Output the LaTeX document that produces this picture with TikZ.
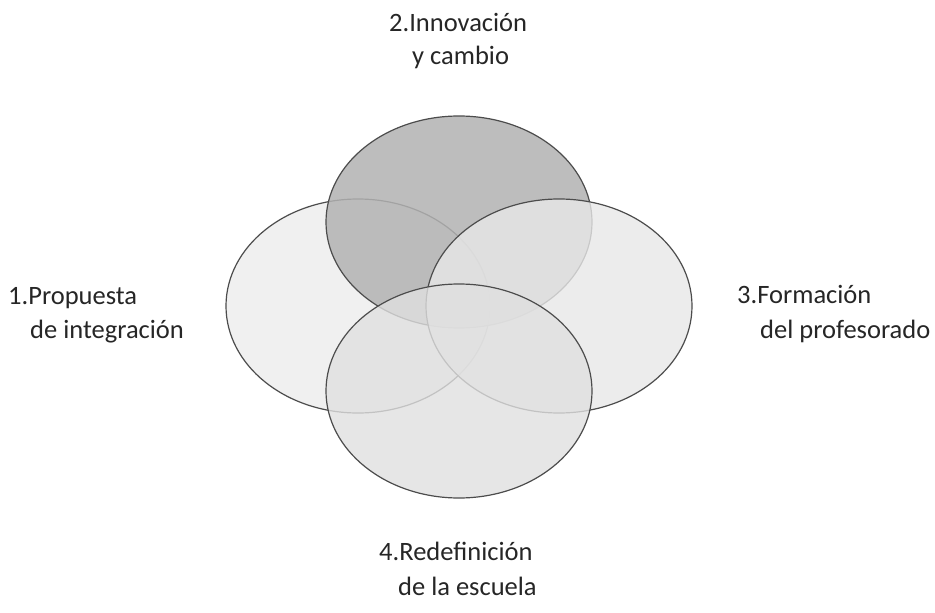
\documentclass[tikz,border=0pt]{standalone}
\usepackage{fontspec}
\setmainfont{Carlito}
\begin{document}
\begin{tikzpicture}[x=1pt,y=-1pt,
  petal/.style={draw=black!70, line width=1.2pt},
  lbl/.style={anchor=base west, inner sep=0pt, font=\fontsize{26.5}{32}\selectfont, text=black!85}]
\useasboundingbox (0,0) rectangle (935,613);
\fill[white] (0,0) rectangle (935,613);
% four overlapping ellipses
\draw[petal, fill=black!6] (358,306) ellipse [x radius=132, y radius=107];
\draw[petal, fill=black!30, fill opacity=0.85] (459,222) ellipse [x radius=133, y radius=106];
\draw[petal, fill=black!9, fill opacity=0.8] (559,306) ellipse [x radius=133, y radius=107];
\draw[petal, fill=black!12, fill opacity=0.8] (459,391) ellipse [x radius=133, y radius=107];
% labels
\node[lbl] (l1a) at (8,304) {1.Propuesta};
\node[lbl] (l1b) at (30,338) {de integración};
\node[lbl] (l2a) at (389,31) {2.Innovación};
\node[lbl] (l2b) at (412,64) {y cambio};
\node[lbl] (l3a) at (737,303) {3.Formación};
\node[lbl] (l3b) at (760,338) {del profesorado};
\node[lbl] (l4a) at (379,560) {4.Redefinición};
\node[lbl] (l4b) at (398,595) {de la escuela};
\end{tikzpicture}
\end{document}
